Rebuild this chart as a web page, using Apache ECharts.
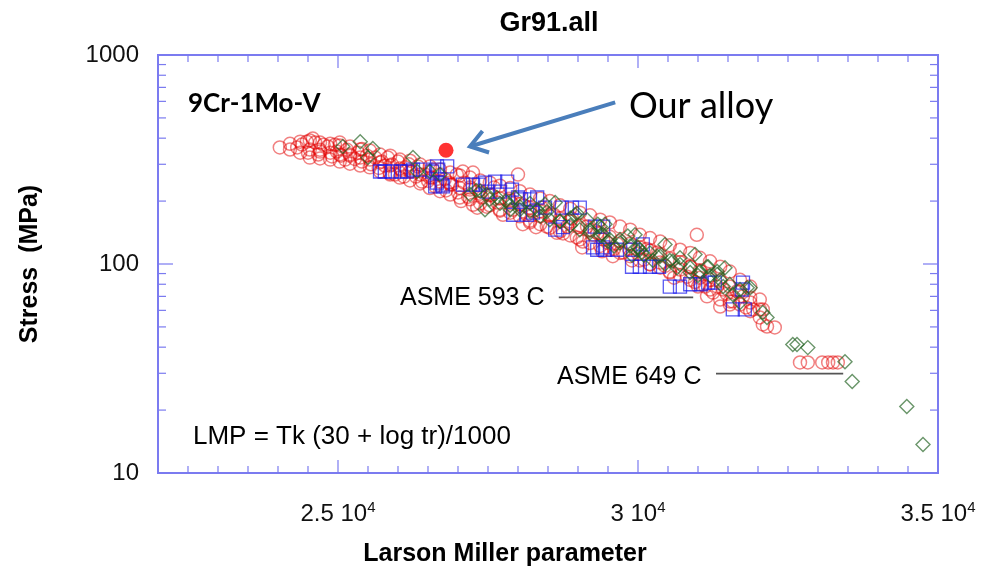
<!DOCTYPE html>
<html><head><meta charset="utf-8">
<script src="https://cdn.jsdelivr.net/npm/echarts@6/dist/echarts.min.js"></script>
<style>html,body{margin:0;padding:0;background:#fff}#c{width:998px;height:571px}</style>
</head><body><div id="c"></div>
<script>
// ---- data (Larson Miller parameter, Stress MPa) ----
const redCircles = [
 [24030,361],[24320,361],[24400,373],[24480,385],[24580,398],[24620,381],[24500,341],[24670,334],[24830,365],[24900,327],
 [24980,345],[25030,381],[25120,316],[25200,334],[25330,341],[25400,309],[25620,323],[25730,309],[25830,323],[25900,299],
 [26000,309],[25950,268],[26120,290],[26230,277],[26330,293],[26450,268],[26400,248],[26570,259],[26620,235],[26700,268],
 [24700,352],[24760,372],[25050,330],[25150,352],[25280,318],[25480,330],[25550,300],[25680,288],[25780,296],[26050,282],
 [26180,300],[26300,262],[26500,250],[26780,255],[26850,245],[25860,272],[26100,262],[25400,355],[24950,372],
 [26580,283],[26980,268],[27080,277],[27250,274],[27000,220],[27170,210],[27400,208],[27320,186],[27480,188],[27650,197],
 [28000,268],[27750,172],[27920,182],[28080,155],[28200,158],[28370,169],[28530,169],[28480,151],[28650,141],[28820,151],
 [28980,134],[29080,128],[29150,151],[29320,141],[29070,120],[29420,131],
 [26900,240],[27100,245],[27200,232],[27350,225],[27550,215],[27600,232],[27850,205],[27900,195],[28100,190],[28250,180],
 [28400,186],[28600,172],[28700,160],[28900,165],[29000,150],[29250,138],[29500,126],[26800,225],[27050,200],[27250,192],
 [27700,180],[28150,172],[28300,150],[28750,140],
 [29580,109],[29750,113.5],[30320,113.5],[30370,101.6],[30530,91],[30700,94],[30870,97],[30820,87],[31030,86],[31120,78],
 [31320,78],[31420,75.5],[31150,70],[31370,62.6],[31530,66.2],[31750,70],[31870,65.5],[32080,60.6],[31250,73],[31580,66.2],
 [31920,60.6],[32080,51.4],[32150,50.2],[32280,49.7],
 [29650,125],[29850,118],[30000,112],[30100,105],[30200,100],[29900,104],[30450,98],[30600,86],[30950,82],[31050,92],
 [31200,84],[31480,72],[31650,74],[31800,62],[29400,115],[29600,118],[30150,118],[31000,78],
 [32700,33.8],[32830,33.8],[33070,33.8],[33170,33.8],[33250,33.8],[33330,33.8],
 [30980,138]
];
const redBand = [
 [24200,376],[24200,353],[24370,385],[24370,341],[24530,390],[24530,353],[24530,323],[24700,381],[24700,345],[24700,320],
 [24870,376],[24870,341],[24870,316],[25030,369],[25030,334],[25030,309],[25200,365],[25200,330],[25200,302],
 [25370,353],[25370,323],[25370,296],[25530,349],[25530,316],[25530,290],[25700,334],[25700,306],[25700,277],
 [25870,330],[25870,296],[25870,268],[26030,316],[26030,286],[26030,259],[26200,312],[26200,277],[26200,251],
 [26370,299],[26370,268],[26370,243],[26530,293],[26530,259],[26530,231],[26700,283],[26700,248],[26700,223],
 [26870,274],[26870,240],[26870,215],[27030,265],[27030,231],[27030,208],[27200,259],[27200,227],[27200,204],
 [27370,251],[27370,217],[27370,195],[27530,245],[27530,213],[27530,191],[27700,237],[27700,206],[27700,182],
 [27870,231],[27870,200],[27870,176],[28030,223],[28030,193],[28030,169],[28200,215],[28200,186],[28200,161],
 [28370,206],[28370,179],[28370,155],[28530,200],[28530,172],[28530,149],[28700,191],[28700,165],[28700,143],
 [28870,184],[28870,160],[28870,137],[29030,176],[29030,153],[29030,131],[29200,171],[29200,146],[29200,126],
 [29370,163],[29370,140],[29370,122],[29530,158],[29530,135],[29530,117],[29700,151],[29700,129],[29700,113],
 [29870,146],[29870,125],[29870,109],[30030,138],[30030,120],[30030,104],[30200,133],[30200,116],[30200,99.5],
 [30370,128],[30370,111],[30370,96],[30530,123],[30530,106],[30530,92],[30700,117],[30700,102],[30700,88],
 [30870,113],[30870,97],[30870,84],[31030,107],[31030,93],[31030,80],[31200,103],[31200,88],[31200,75.5],
 [31370,97],[31370,83],[31370,67.6],[31530,92],[31530,78],[31530,64],[31700,84],[31700,74],[31700,64],
 [31870,78],[31870,69],[31870,59.5],[32030,67.6],[32030,60.6],[32030,55.5]
];
const blueSquares = [
 [25700,277],[25780,277],[26150,277],[26250,283],[26420,283],[26570,277],[26670,283],[26650,245],[26730,240],
 [26650,293],[26820,293],[26620,235],[26750,235],[27080,240],[27250,240],[27450,245],[27620,248],[27820,248],[27500,222],
 [27700,222],[27900,227],[28000,208],[28200,204],[28320,208],[27920,172],[28150,172],[28250,176],[28730,186],[28900,186],
 [29030,186],[28750,150],[28620,146],[29280,151],[29420,151],[29250,120],[29420,120],
 [29320,117],[29450,117],[29920,117],[30080,124],[29900,97],[30030,97],[30200,97],[30530,78],[30700,78],[30870,80],
 [31170,81.5],[31280,81.5],[31750,81.5],[31730,75.5],[31580,60.6],[31780,60.6],
 [25900,277],[26050,277],[27350,240],[28050,204],[28450,186],[29650,117],[30350,97],[31050,80]
];
const greenDiamonds = [
 [25080,365],[25370,385],[25580,357],[25500,323],[26250,323],[26320,277],[26530,277],
 [26700,268],[27480,215],[27650,208],[27870,182],[28030,188],[28320,182],[28480,178],[28620,197],[28870,166],[28980,175],
 [29150,163],[29330,155],[29420,138],
 [29370,151],[29700,131],[29830,136],[30070,113.5],[30320,109],[30580,103],[30700,107],[30870,91],[31150,97],[31320,92],
 [31420,78],[31580,71.5],[31870,77],[31700,65.5],
 [31170,97],[31320,89],[31820,77],[32080,58.6],[32150,55.5],[32580,41.2],[32650,41.2],[32830,39.8],[33450,34.1],[33570,27.4],
 [34480,20.8],[34750,13.7],
 [29500,128],[29600,122],[29950,118],[30100,110],[30250,104],[30450,100],[30000,120],[30650,96],[31000,88],[29200,145],
 [28700,160],[27300,225],[27800,200],[28200,195],[29900,110],
 [27200,215],[27370,223],[27530,204],[27700,195],[27870,191],[28030,182],[28200,179],[28370,169],[28530,163],[28700,160],
 [28870,153],[29030,146],[29200,141],[29370,137],[29530,131],[29700,126],[29870,122],[30030,117],[30200,113],[30370,109],
 [30530,104],[30700,99.5],[30870,96],[31030,92],[31200,88],[31370,84],[31530,80],[31700,75.5],
 [27450,182],[27950,208],[28450,193],[28950,172],[29450,155],[29950,138],[30450,124],[30950,111],[31450,96]
];
const ourAlloy = [[26800,350]];
const asme593Line = [[28680,69.2],[30920,69.2]];
const asme649Line = [[31300,29.9],[33420,29.9]];
const arrowFrom = [29620,593];
const arrowTo = [27200,365];

// axis ticks
const xMin = 22000, xMax = 35000, yMin = 10, yMax = 1000;
const xMajorTicks = [25000,30000,35000];
const xMinorTicks = [22500,23000,23500,24000,24500,25500,26000,26500,27000,27500,28000,28500,29000,29500,30500,31000,31500,32000,32500,33000,33500,34000,34500];
const yMajorTicks = [10,100,1000];
const yMinorTicks = [20,30,40,50,60,70,80,90,200,300,400,500,600,700,800,900];

const frameColor = '#7b7bf0';
const tickData = [];
xMinorTicks.forEach(v=>{tickData.push([v,yMin,0,7]);tickData.push([v,yMax,1,7]);});
xMajorTicks.forEach(v=>{tickData.push([v,yMin,0,13]);tickData.push([v,yMax,1,13]);});
yMinorTicks.forEach(v=>{tickData.push([xMin,v,2,8]);tickData.push([xMax,v,3,8]);});
yMajorTicks.forEach(v=>{tickData.push([xMin,v,2,15]);tickData.push([xMax,v,3,15]);});

function renderTick(params, api){
  const side = api.value(2), len = api.value(3);
  const p = api.coord([api.value(0), api.value(1)]);
  let x2 = p[0], y2 = p[1];
  if (side === 0) y2 = p[1] - len; else if (side === 1) y2 = p[1] + len;
  else if (side === 2) x2 = p[0] + len; else x2 = p[0] - len;
  return {type:'line', shape:{x1:p[0],y1:p[1],x2:x2,y2:y2}, style:{stroke:frameColor, lineWidth:1.2}};
}

const chart = echarts.init(document.getElementById('c'), null, {renderer:'canvas'});
const redStyle = {color:'rgba(255,255,255,0)', borderColor:'rgba(226,0,0,0.62)', borderWidth:1.5};
const option = {
  animation:false,
  backgroundColor:'#fff',
  grid:{left:158, top:55, right:60, bottom:98, show:true, borderColor:frameColor, borderWidth:2, backgroundColor:'transparent'},
  xAxis:{type:'value', min:xMin, max:xMax, interval:500,
    axisLine:{show:false}, axisTick:{show:false}, splitLine:{show:false},
    axisLabel:{margin:27, color:'#111', fontFamily:'Liberation Sans, Arial', fontSize:24,
      formatter:v=> (v%5000===0 && v>xMin) ? (v/10000)+' 10{sup|4}' : '',
      rich:{sup:{fontSize:15, verticalAlign:'top', fontFamily:'Liberation Sans, Arial', color:'#111', padding:[0,0,14,0]}}}},
  yAxis:{type:'log', logBase:10, min:yMin, max:yMax,
    axisLine:{show:false}, axisTick:{show:false}, splitLine:{show:false},
    axisLabel:{margin:19, color:'#111', fontFamily:'Liberation Sans, Arial', fontSize:24, formatter:v=>String(v)}},
  series:[
    {type:'custom', renderItem:renderTick, data:tickData, silent:true, clip:false, z:5},
    {type:'scatter', data:redBand, symbol:'circle', symbolSize:13, itemStyle:redStyle, z:2},
    {type:'scatter', data:redCircles, symbol:'circle', symbolSize:13, itemStyle:redStyle, z:2},
    {type:'scatter', data:blueSquares, symbol:'rect', symbolSize:13,
      itemStyle:{color:'rgba(255,255,255,0)', borderColor:'rgba(25,25,235,0.9)', borderWidth:1.3}, z:3},
    {type:'scatter', data:greenDiamonds, symbol:'diamond', symbolSize:14,
      itemStyle:{color:'rgba(255,255,255,0)', borderColor:'rgba(35,100,35,0.85)', borderWidth:1.4}, z:4},
    {type:'scatter', data:ourAlloy, symbol:'circle', symbolSize:15, itemStyle:{color:'#ff0000'}, z:6},
    {type:'line', data:asme593Line, symbol:'none', lineStyle:{color:'#555', width:1.6}, z:6},
    {type:'line', data:asme649Line, symbol:'none', lineStyle:{color:'#555', width:1.6}, z:6}
  ]
};
chart.setOption(option);

const a0 = chart.convertToPixel({gridIndex:0}, arrowFrom);
const a1 = chart.convertToPixel({gridIndex:0}, arrowTo);
const ang = Math.atan2(a0[1]-a1[1], a0[0]-a1[0]);
const wl = 20, wa = 0.6;
const w1 = [a1[0]+wl*Math.cos(ang+wa), a1[1]+wl*Math.sin(ang+wa)];
const w2 = [a1[0]+wl*Math.cos(ang-wa), a1[1]+wl*Math.sin(ang-wa)];
const arrowColor = '#4a7ebb';
const txt = (x,y,text,font,opts)=>Object.assign({type:'text', x:x, y:y, z:100,
  style:Object.assign({text:text, font:font, fill:'#000', textVerticalAlign:'middle'}, opts||{})});
chart.setOption({graphic:[
  txt(549,24,'Gr91.all','bold 27px "Liberation Sans", Arial',{textAlign:'center'}),
  txt(505,554,'Larson Miller parameter','bold 25px "Liberation Sans", Arial',{textAlign:'center'}),
  {type:'text', x:30, y:264, rotation:Math.PI/2, z:100,
    style:{text:'Stress  (MPa)', font:'bold 25px "Liberation Sans", Arial', fill:'#000', textAlign:'center', textVerticalAlign:'middle'}},
  txt(188,104,'9Cr-1Mo-V','bold 26px Lato',{}),
  txt(629,106,'Our alloy','36px Lato',{}),
  txt(400,298,'ASME 593 C','25px "Liberation Sans", Arial',{}),
  txt(557,377,'ASME 649 C','25px "Liberation Sans", Arial',{}),
  txt(193,437,'LMP = Tk (30 + log tr)/1000','26px "Liberation Sans", Arial',{}),
  {type:'polyline', z:100, shape:{points:[a0,a1]}, style:{stroke:arrowColor, lineWidth:4, fill:null}},
  {type:'polyline', z:100, shape:{points:[w1,a1,w2]}, style:{stroke:arrowColor, lineWidth:4, fill:null, lineJoin:'miter'}}
]});
</script></body></html>
